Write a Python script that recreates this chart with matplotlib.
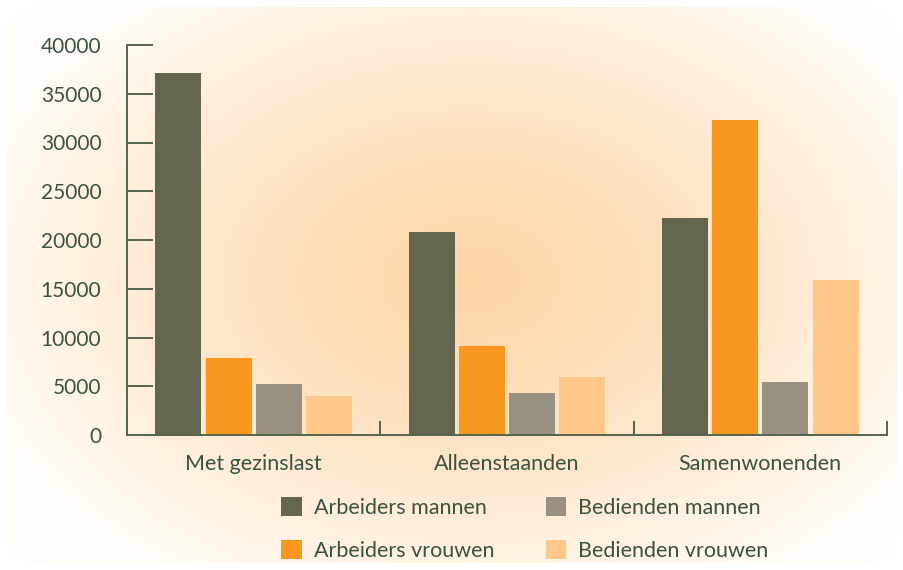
import matplotlib.pyplot as plt
import numpy as np
from matplotlib.patches import FancyBboxPatch, Patch

categories = ["Met gezinslast", "Alleenstaanden", "Samenwonenden"]
series = ["Arbeiders mannen", "Arbeiders vrouwen", "Bedienden mannen", "Bedienden vrouwen"]
arbeiders_mannen = [37100, 20800, 22250]
arbeiders_vrouwen = [7900, 9100, 32300]
bedienden_mannen = [5200, 4300, 5400]
bedienden_vrouwen = [4000, 5900, 15900]
yticks = [0, 5000, 10000, 15000, 20000, 25000, 30000, 35000, 40000]

colors = ["#64654f", "#f7971e", "#989080", "#fec88a"]
text_color = "#3d5140"
line_color = "#56634f"

plt.rcParams["font.family"] = ["Lato", "DejaVu Sans"]

W, H = 904, 570
fig = plt.figure(figsize=(W / 100, H / 100), dpi=100)

# background: rounded panel with radial orange gradient
bg = fig.add_axes([0, 0, 1, 1])
bg.set_xlim(0, W)
bg.set_ylim(0, H)
bg.axis("off")
xx, yy = np.meshgrid(np.arange(W), np.arange(H))
r = np.sqrt(((xx - 470) / 520) ** 2 + ((yy - 290) / 360) ** 2)
t = np.clip(r, 0, 1) ** 1.3
c0 = np.array([253, 214, 168]) / 255
c1 = np.array([255, 253, 248]) / 255
img = c0[None, None, :] * (1 - t[..., None]) + c1[None, None, :] * t[..., None]
im = bg.imshow(img, extent=[0, W, 0, H], origin="lower", zorder=0)
panel = FancyBboxPatch((7, 7), W - 14, H - 14, boxstyle="round,pad=0,rounding_size=32",
                       transform=bg.transData, facecolor="none", edgecolor="none")
bg.add_patch(panel)
im.set_clip_path(panel)

ax = fig.add_axes([127 / W, 1 - 435 / H, (887 - 127) / W, (435 - 45) / H])
ax.patch.set_alpha(0)

values = [arbeiders_mannen, arbeiders_vrouwen, bedienden_mannen, bedienden_vrouwen]
x = np.arange(len(categories))
pitch = 0.198
width = 0.182
for i, (vals, col) in enumerate(zip(values, colors)):
    ax.bar(x + (i - 1.5) * pitch, vals, width, color=col, label=series[i], zorder=2)

ax.set_xlim(-0.5, 2.5)
ax.set_ylim(0, 40000)
ax.set_yticks(yticks)
ax.set_yticklabels([str(v) for v in yticks])
ax.tick_params(axis="y", direction="in", length=19, width=1.4, color=line_color,
               labelsize=15, labelcolor=text_color, pad=18.5)

ax.set_xticks([0.5, 1.5, 2.5], minor=False)
ax.set_xticklabels([])
ax.tick_params(axis="x", direction="in", length=10, width=1.4, color=line_color)
ax.set_xticks(x, minor=True)
ax.set_xticklabels(categories, minor=True)
ax.tick_params(axis="x", which="minor", length=0, labelsize=15.5, labelcolor=text_color, pad=14)

for s in ["top", "right"]:
    ax.spines[s].set_visible(False)
for s in ["left", "bottom"]:
    ax.spines[s].set_color(line_color)
    ax.spines[s].set_linewidth(1.4)

handles = [Patch(facecolor=c, label=s) for c, s in zip(colors, series)]
leg = fig.legend(handles=handles, ncol=2, loc="center", bbox_to_anchor=(525 / W, 1 - 529 / H),
                 frameon=False, fontsize=15.5, labelcolor=text_color, handlelength=0.95,
                 handleheight=0.95, handletextpad=0.55, columnspacing=2.4, labelspacing=1.05)

fig.savefig("out.png", dpi=100)
